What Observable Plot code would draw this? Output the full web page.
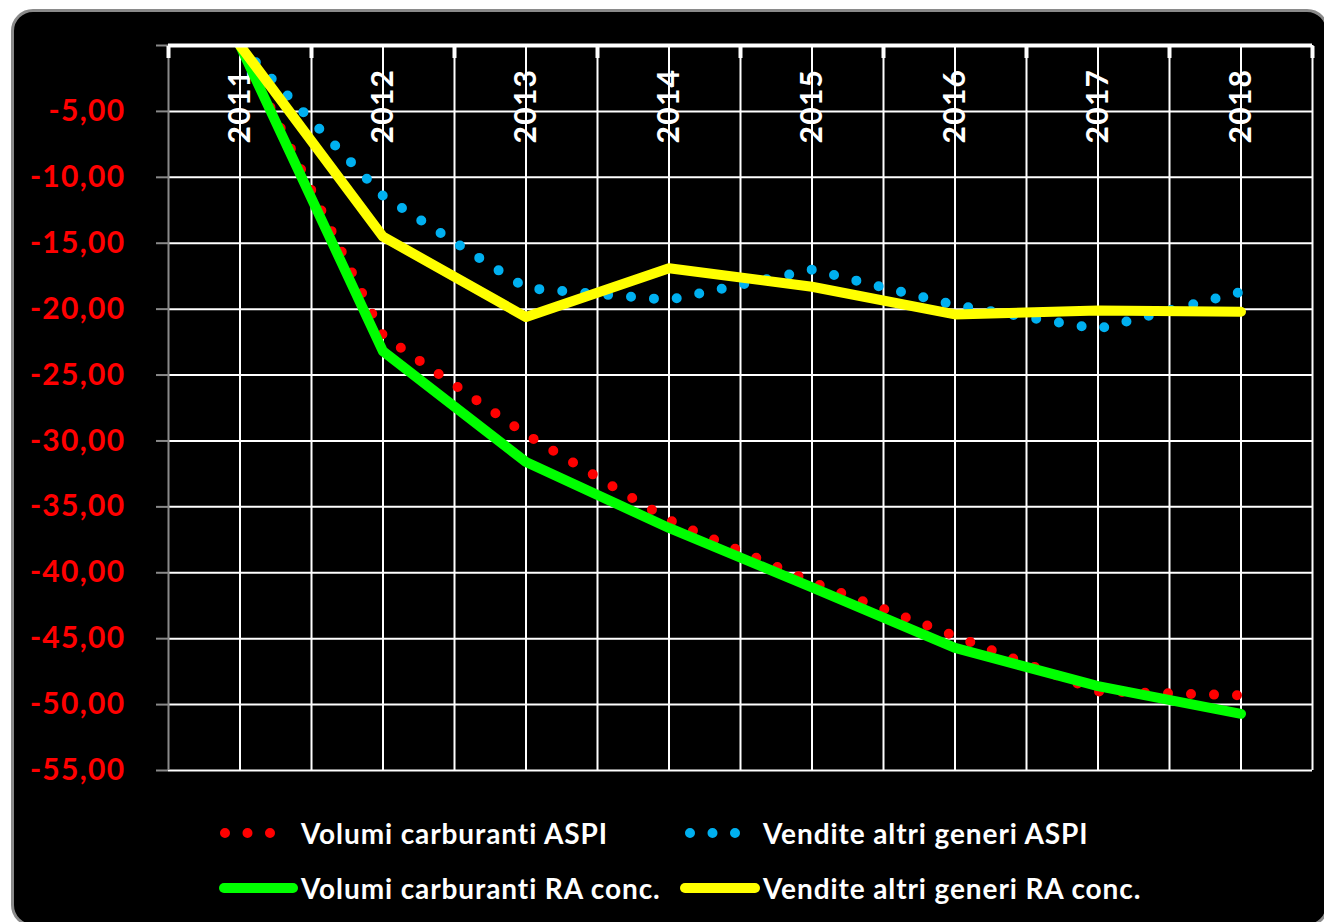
<!DOCTYPE html>
<html>
<head>
<meta charset="utf-8">
<script src="https://cdn.jsdelivr.net/npm/d3@7"></script>
<script src="https://cdn.jsdelivr.net/npm/@observablehq/plot@0.6"></script>
<style>
  html, body { margin: 0; padding: 0; background: #ffffff; overflow: hidden; width: 1324px; height: 922px; }
  #frame { position: absolute; left: 11px; top: 9px; width: 1318px; height: 918px; box-sizing: border-box;
           background: #000000; border: 3px solid #8a8a8a; border-radius: 22px; }
  #chart { position: absolute; left: 0; top: 0; }
  .leg { position: absolute; display: flex; align-items: center; height: 40px;
         font-family: Lato, "Open Sans", sans-serif; font-weight: 700; font-size: 28px; letter-spacing: 0.9px;
         color: #ffffff; white-space: nowrap; }
  .leg svg { display: block; }
</style>
</head>
<body>
<div id="frame"></div>
<div id="chart"></div>
<div id="legend"></div>
<script>
// ---- data ----
const years = [2011, 2012, 2013, 2014, 2015, 2016, 2017, 2018];
const volumiCarburantiASPI   = [0, -22.0, -29.5, -36.0, -40.7, -44.8, -49.0, -49.3];
const venditeAltriGeneriASPI = [0, -11.4, -18.4, -19.3, -17.0, -19.7, -21.5, -18.7];
const volumiCarburantiRA     = [0, -23.2, -31.6, -36.6, -41.1, -45.7, -48.6, -50.7];
const venditeAltriGeneriRA   = [0, -14.5, -20.6, -16.9, -18.3, -20.4, -20.1, -20.2];
const seriesNames = ["Volumi carburanti ASPI", "Vendite altri generi ASPI", "Volumi carburanti RA conc.", "Vendite altri generi RA conc."];
const seriesColors = ["#ff0000", "#00b0f0", "#00ff00", "#ffff00"];
const seriesDotted = [true, true, false, false];
const yTicks = [0, -5, -10, -15, -20, -25, -30, -35, -40, -45, -50, -55];
const yearBoundaries = [2010.5, 2011.5, 2012.5, 2013.5, 2014.5, 2015.5, 2016.5, 2017.5, 2018.5];

const seriesValues = [volumiCarburantiASPI, venditeAltriGeneriASPI, volumiCarburantiRA, venditeAltriGeneriRA];
const rows = seriesValues.map((vals, s) => years.map((yr, i) => ({year: yr, value: vals[i], series: seriesNames[s]})));

const fmt = d => d === 0 ? "" : d.toFixed(2).replace(".", ",");

const lineMarks = rows.map((data, s) => Plot.line(data, {
  x: "year", y: "value",
  stroke: seriesColors[s],
  strokeWidth: 10,
  strokeLinecap: "round",
  strokeLinejoin: "round",
  strokeDasharray: seriesDotted[s] ? "0 23" : null,
  clip: true
}));

const chart = Plot.plot({
  width: 1324,
  height: 780,
  marginLeft: 168,
  marginRight: 12,
  marginTop: 45,
  marginBottom: 10,
  style: {background: "transparent", color: "#ffffff", overflow: "visible", fontFamily: "Lato, 'Open Sans', sans-serif"},
  x: {type: "linear", domain: [2010.5, 2018.5]},
  y: {domain: [-55, 0]},
  marks: [
    Plot.ruleY(yTicks.filter(d => d !== 0), {stroke: "#ffffff", strokeWidth: 2}),
    Plot.ruleX(years, {stroke: "#ffffff", strokeWidth: 2}),
    Plot.ruleX(yearBoundaries.slice(1), {stroke: "#ffffff", strokeWidth: 2}),
    Plot.ruleX(yearBoundaries.slice(0, 1), {stroke: "#8a8a8a", strokeWidth: 2}),
    Plot.axisY({ticks: yTicks, tickSize: 12, tickPadding: 31, stroke: "#8a8a8a", strokeWidth: 2,
      tickFormat: fmt, fill: "#ff0000", fontSize: 30, fontWeight: "bold", label: null}),
    Plot.text(years, {x: d => d, text: d => String(d), frameAnchor: "top", dx: -11, dy: 98, rotate: -90,
      textAnchor: "start", fill: "#ffffff", fontSize: 30, fontWeight: "bold"}),
    ...lineMarks,
    Plot.ruleY([0], {stroke: "#ffffff", strokeWidth: 4}),
    Plot.axisX({anchor: "top", ticks: yearBoundaries, tickSize: -12, stroke: "#ffffff", strokeWidth: 4, tickFormat: () => "", label: null})
  ]
});
d3.select(chart).selectAll("text").style("letter-spacing", "1.3px");
document.getElementById("chart").appendChild(chart);

// ---- legend (HTML, below the plot) ----
const legendPos = [
  {left: 215, top: 813, swatchW: 86},
  {left: 680, top: 813, swatchW: 83},
  {left: 215, top: 868, swatchW: 86},
  {left: 676, top: 868, swatchW: 87}
];
const legend = d3.select("#legend");
seriesNames.forEach((name, s) => {
  const p = legendPos[s];
  const item = legend.append("div").attr("class", "leg").style("left", p.left + "px").style("top", p.top + "px");
  const sw = item.append("svg").attr("width", p.swatchW).attr("height", 40);
  if (seriesDotted[s]) {
    sw.append("line").attr("x1", 10).attr("x2", 60).attr("y1", 20).attr("y2", 20)
      .attr("stroke", seriesColors[s]).attr("stroke-width", 10).attr("stroke-linecap", "round").attr("stroke-dasharray", "0 22.5");
  } else {
    sw.append("line").attr("x1", 9).attr("x2", p.swatchW - 8).attr("y1", 20).attr("y2", 20)
      .attr("stroke", seriesColors[s]).attr("stroke-width", 10).attr("stroke-linecap", "round");
  }
  item.append("span").text(name);
});
</script>
</body>
</html>
